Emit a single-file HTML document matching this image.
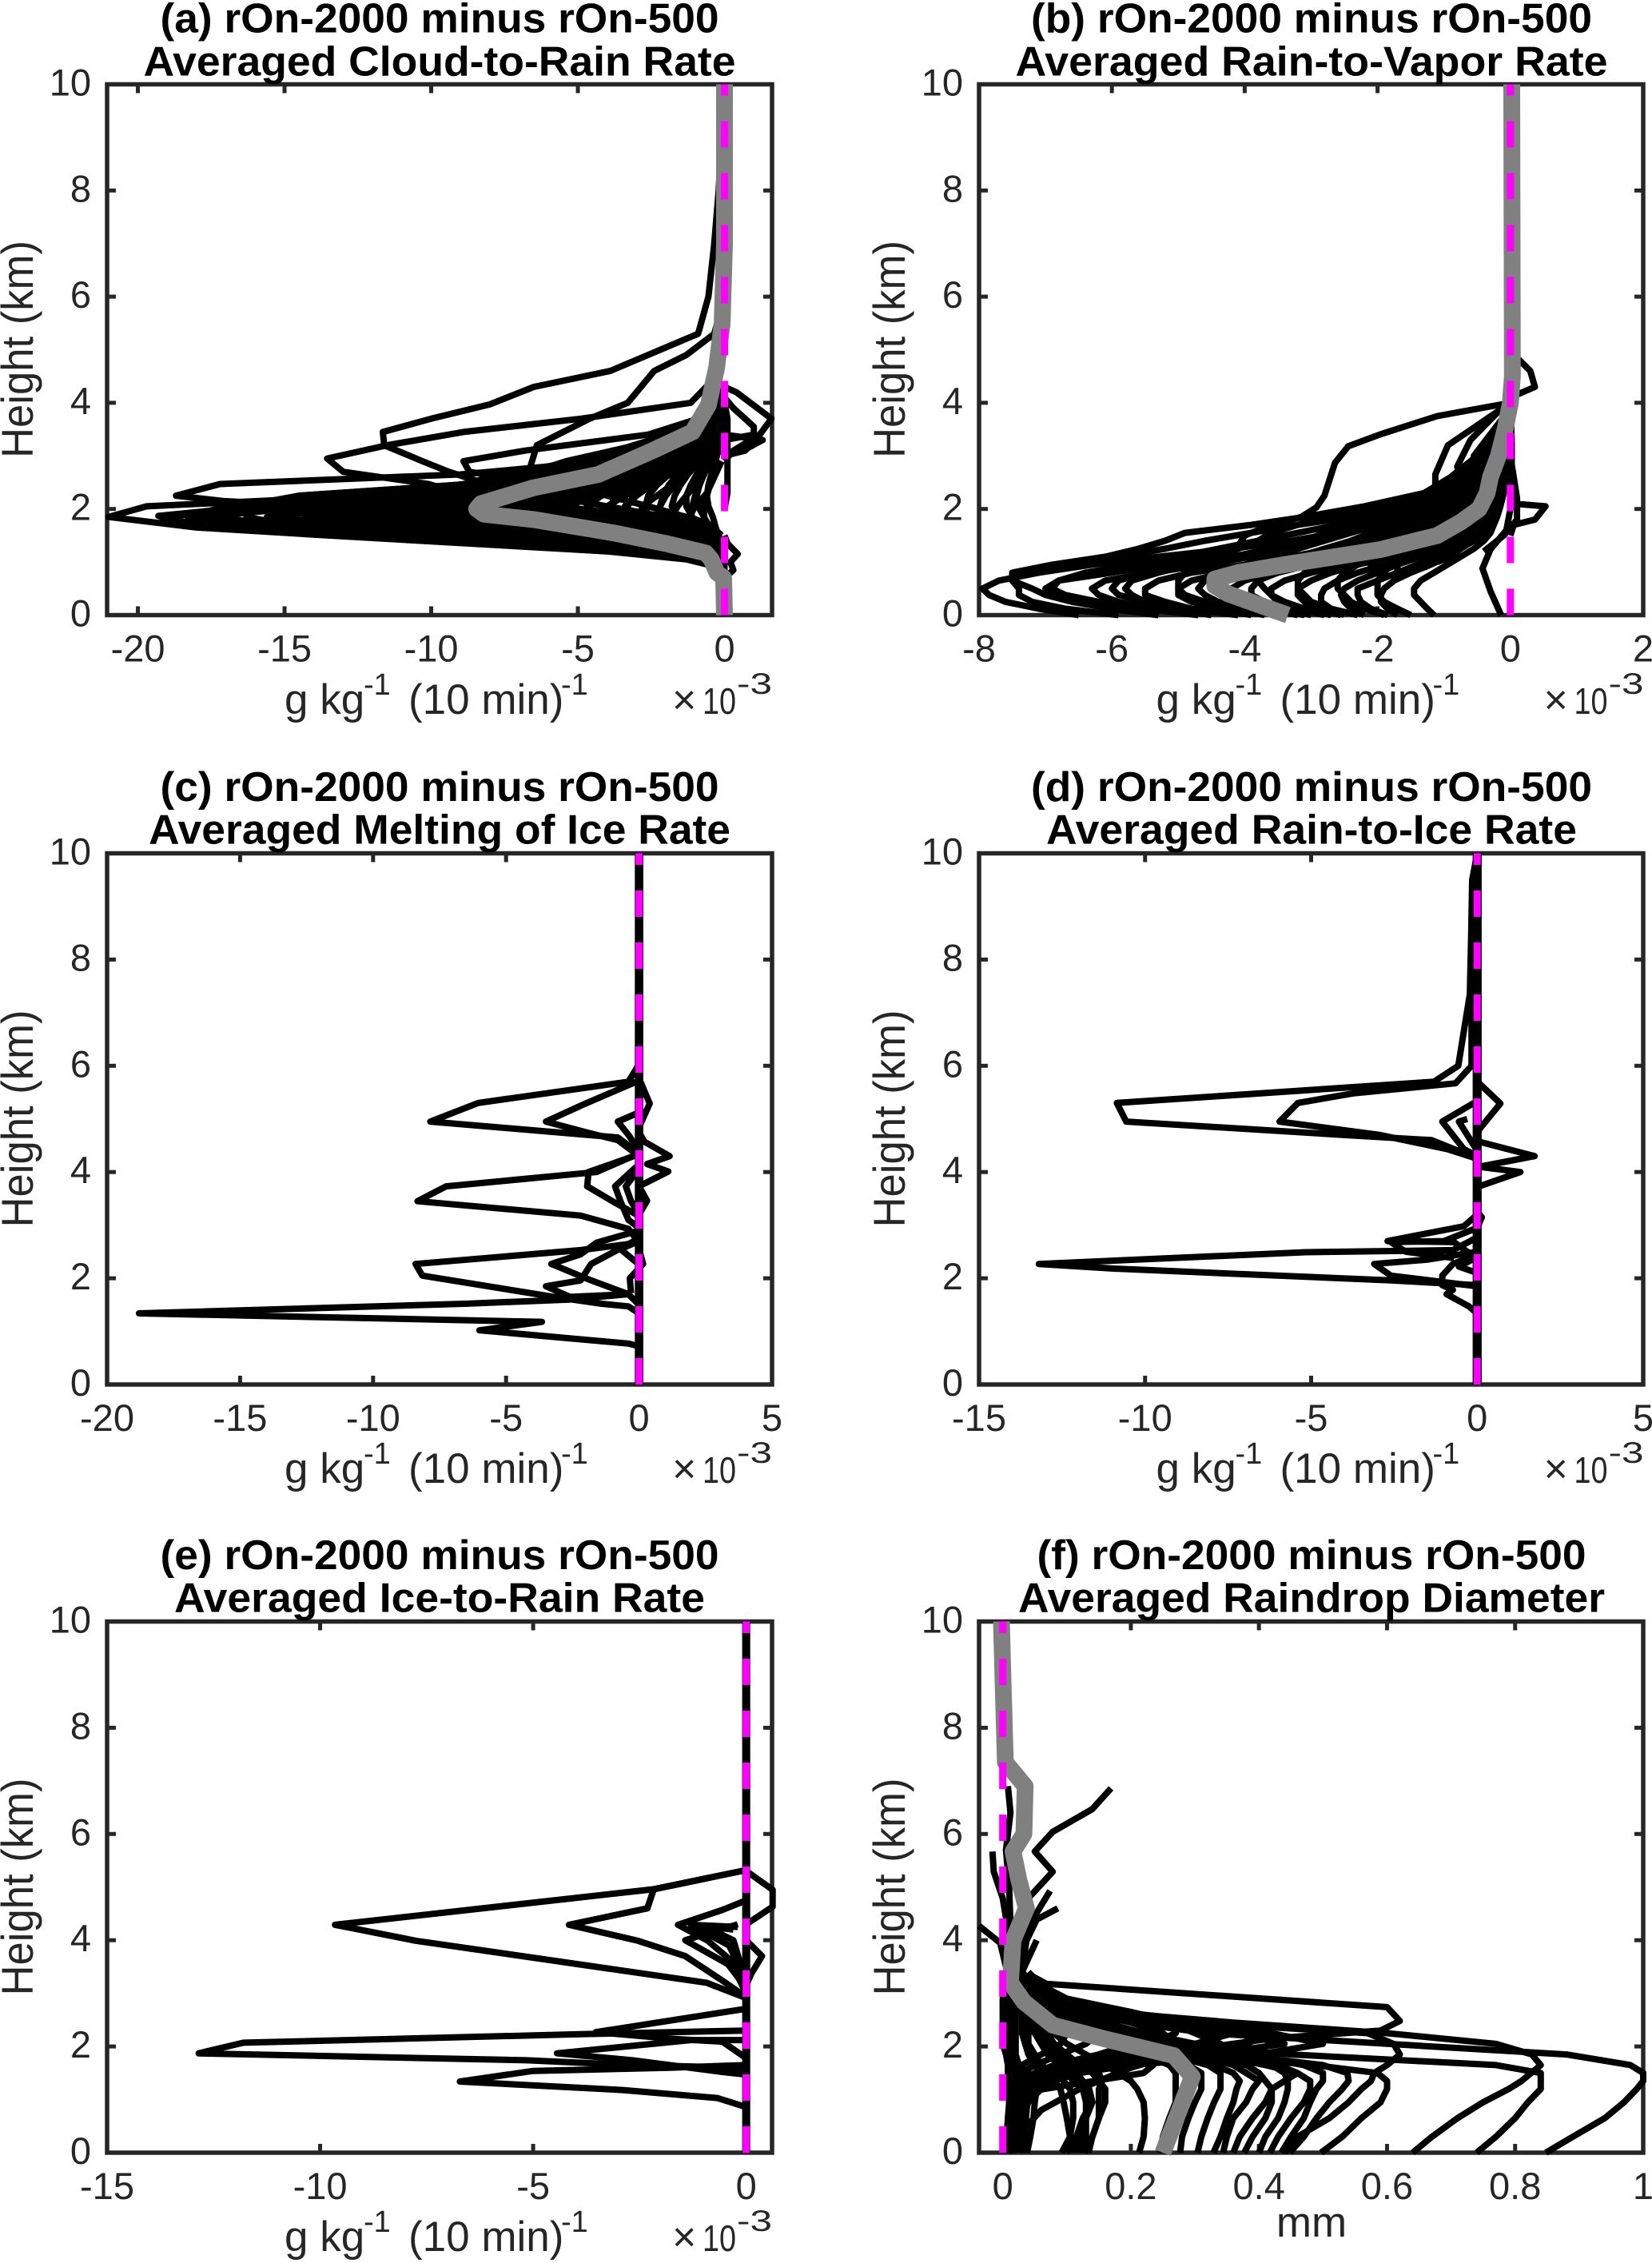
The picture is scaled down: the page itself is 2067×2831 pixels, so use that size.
<!DOCTYPE html>
<html>
<head>
<meta charset="utf-8">
<title>rOn-2000 minus rOn-500 profiles</title>
<style>
html,body{margin:0;padding:0;background:#fff;}
svg{display:block;}
text{font-family:"Liberation Sans",sans-serif;fill:#262626;}
.title{font-weight:bold;font-size:52px;fill:#000;text-anchor:middle;}
.lab{font-size:53px;}
.ylab{font-size:56px;text-anchor:middle;}
.sup{font-size:38px;}
.cross{font-size:52px;}
.mul{font-size:46px;}
.mulsup{font-size:37px;}
.tick{font-size:47px;}
</style>
</head>
<body>
<svg id="fig" width="2067" height="2831" viewBox="0 0 2067 2831" xmlns="http://www.w3.org/2000/svg">
<rect x="0" y="0" width="2067" height="2831" fill="#fff"/>

<g id="panel-a"></g>
<g id="panel-b"></g>
<g id="panel-c"></g>
<g id="panel-d"></g>
<g id="panel-e"></g>
<g id="panel-f"></g>

<text class="title" x="550" y="40.7" textLength="699" lengthAdjust="spacingAndGlyphs">(a) rOn-2000 minus rOn-500</text>
<text class="title" x="550" y="94.3" textLength="741" lengthAdjust="spacingAndGlyphs">Averaged Cloud-to-Rain Rate</text>
<text class="title" x="1641" y="40.7" textLength="702" lengthAdjust="spacingAndGlyphs">(b) rOn-2000 minus rOn-500</text>
<text class="title" x="1641" y="94.3" textLength="741" lengthAdjust="spacingAndGlyphs">Averaged Rain-to-Vapor Rate</text>
<text class="title" x="550" y="1002" textLength="699" lengthAdjust="spacingAndGlyphs">(c) rOn-2000 minus rOn-500</text>
<text class="title" x="550" y="1055.6" textLength="728" lengthAdjust="spacingAndGlyphs">Averaged Melting of Ice Rate</text>
<text class="title" x="1641" y="1002" textLength="702" lengthAdjust="spacingAndGlyphs">(d) rOn-2000 minus rOn-500</text>
<text class="title" x="1641" y="1055.6" textLength="664" lengthAdjust="spacingAndGlyphs">Averaged Rain-to-Ice Rate</text>
<text class="title" x="550" y="1963" textLength="699" lengthAdjust="spacingAndGlyphs">(e) rOn-2000 minus rOn-500</text>
<text class="title" x="550" y="2016.6" textLength="664" lengthAdjust="spacingAndGlyphs">Averaged Ice-to-Rain Rate</text>
<text class="title" x="1641" y="1963" textLength="687" lengthAdjust="spacingAndGlyphs">(f) rOn-2000 minus rOn-500</text>
<text class="title" x="1641" y="2016.6" textLength="734" lengthAdjust="spacingAndGlyphs">Averaged Raindrop Diameter</text>

<text class="ylab" transform="translate(41,437) rotate(-90)" textLength="272" lengthAdjust="spacingAndGlyphs">Height (km)</text>
<text class="ylab" transform="translate(1132,437) rotate(-90)" textLength="272" lengthAdjust="spacingAndGlyphs">Height (km)</text>
<text class="ylab" transform="translate(41,1399.5) rotate(-90)" textLength="272" lengthAdjust="spacingAndGlyphs">Height (km)</text>
<text class="ylab" transform="translate(1132,1399.5) rotate(-90)" textLength="272" lengthAdjust="spacingAndGlyphs">Height (km)</text>
<text class="ylab" transform="translate(41,2360.5) rotate(-90)" textLength="272" lengthAdjust="spacingAndGlyphs">Height (km)</text>
<text class="ylab" transform="translate(1132,2360.5) rotate(-90)" textLength="272" lengthAdjust="spacingAndGlyphs">Height (km)</text>

<text class="lab"><tspan x="356" y="893">g kg</tspan><tspan class="sup" x="455" y="869">-1</tspan><tspan x="511" y="893">(10 min)</tspan><tspan class="sup" x="702" y="869">-1</tspan></text>
<text class="lab"><tspan x="1446.5" y="893">g kg</tspan><tspan class="sup" x="1545.5" y="869">-1</tspan><tspan x="1601.5" y="893">(10 min)</tspan><tspan class="sup" x="1792.5" y="869">-1</tspan></text>
<text class="lab"><tspan x="356" y="1855">g kg</tspan><tspan class="sup" x="455" y="1831">-1</tspan><tspan x="511" y="1855">(10 min)</tspan><tspan class="sup" x="702" y="1831">-1</tspan></text>
<text class="lab"><tspan x="1446.5" y="1855">g kg</tspan><tspan class="sup" x="1545.5" y="1831">-1</tspan><tspan x="1601.5" y="1855">(10 min)</tspan><tspan class="sup" x="1792.5" y="1831">-1</tspan></text>
<text class="lab"><tspan x="356" y="2816">g kg</tspan><tspan class="sup" x="455" y="2792">-1</tspan><tspan x="511" y="2816">(10 min)</tspan><tspan class="sup" x="702" y="2792">-1</tspan></text>
<text class="lab" x="1641" y="2798" text-anchor="middle">mm</text>

<g><text class="cross" x="841" y="893">×</text><text class="mul" x="879" y="893" textLength="42" lengthAdjust="spacingAndGlyphs">10</text><text class="mulsup" x="922" y="868" textLength="44" lengthAdjust="spacingAndGlyphs">-3</text></g>
<g><text class="cross" x="1931.5" y="893">×</text><text class="mul" x="1969.5" y="893" textLength="42" lengthAdjust="spacingAndGlyphs">10</text><text class="mulsup" x="2012.5" y="868" textLength="44" lengthAdjust="spacingAndGlyphs">-3</text></g>
<g><text class="cross" x="841" y="1855">×</text><text class="mul" x="879" y="1855" textLength="42" lengthAdjust="spacingAndGlyphs">10</text><text class="mulsup" x="922" y="1830" textLength="44" lengthAdjust="spacingAndGlyphs">-3</text></g>
<g><text class="cross" x="1931.5" y="1855">×</text><text class="mul" x="1969.5" y="1855" textLength="42" lengthAdjust="spacingAndGlyphs">10</text><text class="mulsup" x="2012.5" y="1830" textLength="44" lengthAdjust="spacingAndGlyphs">-3</text></g>
<g><text class="cross" x="841" y="2816">×</text><text class="mul" x="879" y="2816" textLength="42" lengthAdjust="spacingAndGlyphs">10</text><text class="mulsup" x="922" y="2791" textLength="44" lengthAdjust="spacingAndGlyphs">-3</text></g>
</svg>

<script>
// ---------- tick values ----------
const yTicks = [0,2,4,6,8,10];
const xTicksA = [-20,-15,-10,-5,0];
const xTicksB = [-8,-6,-4,-2,0,2];
const xTicksC = [-20,-15,-10,-5,0,5];
const xTicksD = [-15,-10,-5,0,5];
const xTicksE = [-15,-10,-5,0];
const xTicksF = [0,0.2,0.4,0.6,0.8,1];

// ---------- panel (a) ----------
const levelsA = [.7,.9,1.05,1.2,1.35,1.5,1.65,1.85,2.05,2.25,2.45,2.65,2.9,3.15,3.4,3.7,4,4.3];
const seriesA = [
[0,-.2,-1.3,-4,-8.4,-13.4,-17.6,-19.2,-15,-9,-5,-2.8,-1.3,-.6,-.2,-.1,0,0],
[0,-.2,-1.2,-3.9,-8.1,-12.8,-16.5,-18.3,-17,-13,-7.5,-4,-2,-.9,-.3,-.1,0,0],
[0,-.1,-1.2,-3.7,-7.6,-12,-15.4,-17,-16.2,-14.5,-9.2,-5.5,-3,-1.3,-.5,-.2,0,0],
[0,-.1,-1.1,-3.5,-7.2,-11.2,-14.4,-16.3,-15.8,-12,-8.5,-5,-2.4,-1.1,-.4,-.1,0,0],
[0,-.1,-1,-3.3,-6.8,-10.4,-13.2,-15,-14.8,-13,-9,-6,-3.4,-1.6,-.6,-.2,0,0],
[0,-.1,-.9,-3,-6.3,-9.6,-12.4,-14.3,-13.8,-11,-8,-5.4,-2.8,-1.2,-.5,-.1,0,0],
[0,-.1,-.9,-2.9,-6,-9,-11.6,-13.4,-13,-11.6,-8.8,-6.2,-3.6,-1.8,-.7,-.2,0,0],
[0,-.1,-.8,-2.7,-5.6,-8.6,-11,-12.6,-12.4,-10,-7.4,-5,-2.6,-1.2,-.4,-.1,0,0],
[0,-.1,-.8,-2.5,-5.2,-8,-10.3,-12,-11.6,-10.4,-8,-5.8,-3.8,-2,-.8,-.3,0,0],
[0,-.1,-.7,-2.4,-4.9,-7.5,-9.6,-11,-10.8,-9,-6.6,-4.6,-2.4,-1.1,-.4,-.1,0,0],
[0,-.1,-.7,-2.2,-4.5,-7,-9,-10.4,-10.2,-9.2,-7.4,-5.2,-3.4,-1.8,-.9,-.3,0,0],
[0,-.1,-.6,-2,-4.2,-6.5,-8.3,-9.6,-9.4,-8,-6,-4.2,-2.2,-1,-.3,-.1,0,0],
[0,0,-.6,-1.9,-3.9,-6,-7.7,-9,-8.8,-7.8,-6.4,-4.8,-3,-1.6,-.7,-.2,0,0],
[0,0,-.5,-1.7,-3.6,-5.5,-7.1,-8.2,-8,-6.8,-5.2,-3.8,-2,-.9,-.3,-.1,0,0],
[0,0,-.5,-1.6,-3.3,-5.1,-6.5,-7.5,-7.4,-6.8,-5.4,-4.2,-2.7,-1.4,-.6,-.2,0,0],
[0,0,-.4,-1.4,-3,-4.6,-5.9,-6.8,-6.7,-5.6,-4.4,-3.2,-1.8,-.8,-.3,0,0,0],
[0,0,-.4,-1.3,-2.7,-4.1,-5.3,-6.1,-6,-5.4,-4.4,-3.4,-2.3,-1.2,-.5,-.2,0,0],
[0,0,-.3,-1.1,-2.4,-3.7,-4.7,-5.4,-5.3,-4.5,-3.6,-2.6,-1.5,-.7,-.2,0,0,0],
[0,0,-.3,-1,-2.1,-3.2,-4.1,-4.8,-4.7,-4.2,-3.5,-2.7,-1.9,-1,-.4,-.1,0,0],
[0,0,-.2,-.9,-1.8,-2.8,-3.6,-4.1,-4,-3.4,-2.7,-2,-1.2,-.6,-.2,0,0,0],
[0,0,-.2,-.8,-1.6,-2.4,-3,-3.5,-3.4,-3,-2.5,-2,-1.4,-.8,-.3,-.1,0,0],
[0,0,-.2,-.6,-1.3,-2,-2.5,-2.9,-2.8,-2.3,-1.8,-1.4,-.9,-.4,-.1,0,0,0],
[0,0,-.1,-.5,-1,-1.5,-2,-2.3,-2.2,-2,-1.7,-1.4,-1,-.6,-.2,-.1,0,0],
[0,0,-.1,-.4,-.8,-1.2,-1.5,-1.8,-1.6,-1.3,-1,-.8,-.6,-.3,-.1,0,0,0],
[0,0,-.1,-.3,-.5,-.8,-1,-1.2,-1.1,-1,-.9,-.7,-.5,-.3,-.1,0,0,0],
[0,0,0,-.1,-.3,-.5,-.6,-.7,-.7,-.6,-.5,-.4,-.3,-.2,-.1,0,0,0],
[0,0,-.1,-.3,-.7,-1.2,-2.4,-5.5,-10,-14.5,-9,-6.4,-4,-2.2,-1,-.4,-.1,0],
[0,0,0,-.2,-.5,-1,-2,-4.5,-8.5,-12,-8.8,-7,-4.4,-2.6,-1.3,-.5,-.1,0],
[0,0,0,-.2,-.4,-.8,-1.6,-3.6,-7,-10.4,-9,-7.6,-5,-3,-1.6,-.7,-.2,0],
[0,0,0,-.1,-.3,-.6,-1.2,-2.8,-5.6,-8.4,-7.8,-6.8,-5.4,-3.4,-1.9,-.8,-.3,0],
[0,0,0,-.1,-.2,-.4,-.9,-2,-4,-6,-6.4,-6,-4.6,-3.2,-1.8,-1,-.4,-.1],
[0,0,0,0,-.1,-.3,-.6,-1.3,-2.6,-4,-4.8,-4.8,-3.8,-2.8,-1.8,-1,-.5,-.1],
[0,-.1,-.8,-2.6,-5.4,-8.4,-11,-13.5,-16.5,-14.5,-9.2,-6,-3,-1.4,-.5,-.2,0,0],
[0,-.1,-.7,-2.3,-4.8,-7.6,-10,-12.5,-15,-14,-9,-6.5,-3.2,-1.5,-.5,-.2,0,0],
[0,-.1,-.7,-2.2,-4.6,-7,-9.2,-11.4,-14,-13.5,-8.8,-7,-3.6,-1.7,-.6,-.2,0,0],
[0,-.1,-.6,-2,-4.2,-6.4,-8.4,-10.4,-12.6,-12.5,-8.6,-7.4,-4,-1.9,-.7,-.2,0,0],
[0,-.1,-.6,-1.8,-3.8,-5.8,-7.6,-9.4,-11.2,-11.5,-8.4,-6.8,-3.6,-1.7,-.6,-.2,0,0],
[0,0,-.5,-1.6,-3.4,-5.2,-6.8,-8.4,-10,-10.5,-8.2,-6.6,-4.2,-2.2,-.9,-.3,0,0],
[0,0,-.4,-1.3,-2.8,-4.4,-5.6,-6.4,-7,-7.2,-5.8,-4.4,-2.8,-1.5,-.7,-.2,0,0],
[0,0,-.4,-1.2,-2.5,-3.8,-4.9,-5.6,-6,-6.2,-5.2,-4,-2.6,-1.3,-.6,-.2,0,0],
[0,0,-.3,-1,-2.2,-3.4,-4.3,-5,-5.2,-5.2,-4.6,-3.6,-2.4,-1.2,-.5,-.15,0,0],
[0,0,-.3,-.9,-2,-3,-3.8,-4.4,-4.6,-4.4,-3.9,-3.2,-2.1,-1.1,-.45,-.1,0,0],
[0,0,-.2,-.8,-1.7,-2.6,-3.3,-3.8,-3.9,-3.7,-3.3,-2.8,-1.8,-.95,-.4,-.1,0,0],
[0,0,-.2,-.7,-1.5,-2.2,-2.8,-3.2,-3.3,-3.1,-2.8,-2.3,-1.55,-.85,-.35,-.1,0,0],
[0,0,-.2,-.6,-1.2,-1.8,-2.3,-2.6,-2.7,-2.6,-2.3,-1.9,-1.3,-.7,-.3,-.1,0,0],
[0,0,-.1,-.4,-1,-1.4,-1.8,-2.1,-2.2,-2.1,-1.9,-1.6,-1.1,-.55,-.25,-.05,0,0],
[0,0,-.1,-.3,-.7,-1,-1.3,-1.6,-1.8,-1.7,-1.5,-1.25,-.85,-.45,-.2,-.05,0,0],
[0,0,-.1,-.2,-.5,-.7,-.9,-1.1,-1.3,-1.3,-1.15,-.95,-.65,-.35,-.15,0,0,0],
[0,0,0,-.1,-.3,-.4,-.5,-.7,-.9,-.95,-.85,-.7,-.5,-.25,-.1,0,0,0],
[0,0,0,-.1,-.1,-.2,-.3,-.4,-.55,-.6,-.55,-.45,-.35,-.15,-.05,0,0,0],
[0,-.2,-1.2,-3.8,-7.8,-12.2,-15.8,-17.8,-14,-9,-5,-2.8,-1.3,-.6,-.2,-.1,0,0],
[0,-.1,-1.1,-3.4,-7,-10.8,-13.8,-15.6,-12.5,-8,-5,-2.8,-1.3,-.6,-.2,-.1,0,0],
[0,-.1,-.9,-2.8,-6,-9.2,-11.8,-13.2,-10.5,-7,-4.5,-2.6,-1.2,-.5,-.2,0,0,0],
[0,-.1,-.8,-2.5,-5.2,-7.8,-10,-11.5,-9,-6,-4,-2.4,-1.1,-.5,-.2,0,0,0],
[0,-.1,-.6,-2.1,-4.4,-6.6,-8.6,-10,-8,-5.4,-3.5,-2.2,-1,-.45,-.15,0,0,0],
[0,0,-.5,-1.8,-3.8,-5.7,-7.4,-8.6,-7,-4.8,-3.2,-2,-.9,-.4,-.1,0,0,0],
[0,0,-.4,-1.5,-3.2,-4.9,-6.2,-7.2,-6,-4.2,-2.8,-1.8,-.8,-.35,-.1,0,0,0]
];
const extraHeightsA = [
[10,8,7,6,5.3,4.6,4.3,3.97,3.7,3.45,3.2,2.9,2.7,2.45],
[6,5.3,4.9,4.6,4,3.7,3.2,2.65,2.3],
[4.6,4,3.7,3.45,3.2,2.95,2.7,2.47,2.3],
[3.7,3.2,2.9,2.65,2.47,2.25,2.15,2,1.85],
[3.4,2.9,2.5,2.25,2.05,1.85,1.65,1.5,1.2],
[2.25,2.05,1.87,1.7],
[4,3.7,3.4,3.1,2.9,2.7,2.5],
[4.3,4.2,3.7,3.4,3.1,2.9],
[4.1,3.9,3.55,3.4,3.3],
[3.4,3.3,3.15,3.1,3],
[1.5,1.35,1.15,1,.85,.7,.5],
[2.9,2.3,2.05,1.85,1.7,1.5],
[4,3.7,3.3,3,2.6,2.3,2]
];
const extraValuesA = [
[0,-.2,-.35,-.55,-.9,-3.9,-6.5,-8,-10,-11.65,-11.6,-10.3,-9.4,-8],
[0,-.35,-1.3,-2.4,-3.3,-4.6,-6.4,-6.7,-6],
[-.1,-1.15,-4.9,-8.9,-11.5,-13.55,-13,-10.1,-9],
[-.3,-1.5,-4,-9,-17.2,-18.7,-17.1,-12,-6],
[-.3,-2,-5,-12,-19.7,-21,-18,-13.5,-4],
[-13,-16,-19.3,-18],
[-.3,-.9,-2.6,-6.8,-8.9,-8.7,-6.5],
[0,.4,1.6,1.2,.3,0],
[0,.3,1,1,0],
[0,1.3,.8,.7,0],
[0,.1,.45,.2,.3,0,0],
[-.1,-.6,-1,-1.2,-.5,-.1],
[0,.1,.1,.1,.1,.1,0]
];
const meanHeightsA = [0,.7,.8,1.05,1.17,1.35,1.55,1.8,1.9,2,2.1,2.4,2.65,3.1,3.45,3.96,4.66,5.5,7,10];
const meanA = [0,-.03,-.26,-.45,-.64,-2,-3.8,-6.5,-8.2,-8.45,-8.3,-6.5,-4.3,-2.45,-1.09,-.55,-.27,-.08,0,0];

// ---------- panel (b) ----------
const levelsB = [0,.12,.25,.38,.5,.65,.8,.95,1.1,1.25,1.4,1.55,1.7,1.85,2.05,2.3,2.6,3,3.4,3.7,4];
const seriesB = [
[-6.5,-7.1,-7.6,-7.85,-7.95,-7.7,-7.1,-6.3,-5.3,-4.2,-3.3,-2.6,-2,-1.6,-1.1,-.7,-.5,-.3,-.15,-.05,0],
[-5.9,-6.7,-7.2,-7.4,-7.4,-7.5,-7.4,-6.7,-5.9,-5.2,-4.6,-3.9,-3.2,-2.4,-1.7,-1.1,-.7,-.4,-.2,-.1,0],
[-5.3,-6,-6.6,-7,-7.2,-7.5,-7.5,-6.9,-6.1,-5.6,-5.2,-4.9,-3.9,-3.1,-2.2,-1.3,-.9,-.5,-.25,-.1,0],
[-5.3,-6,-6.5,-6.9,-7,-6.8,-6,-5.2,-4.5,-4.1,-3.8,-3.6,-3.2,-2.8,-2,-1.2,-.8,-.45,-.2,-.1,0],
[-4.7,-5.4,-5.9,-6.2,-6.3,-6.1,-5.4,-4.6,-3.9,-3.4,-3.1,-2.8,-2.4,-2,-1.5,-1,-.7,-.4,-.2,-.05,0],
[-4.7,-5.5,-6.2,-6.7,-6.9,-6.8,-6.4,-5.7,-5,-4.4,-3.8,-3.2,-2.6,-2.1,-1.5,-.95,-.65,-.4,-.2,-.05,0],
[-4.1,-4.8,-5.2,-5.5,-5.5,-5.3,-4.8,-4,-3.3,-2.7,-2.3,-2,-1.7,-1.4,-1,-.8,-.6,-.35,-.15,-.05,0],
[-4.1,-4.9,-5.5,-5.9,-6,-5.9,-5.5,-4.9,-4.2,-3.5,-2.9,-2.4,-2,-1.6,-1.2,-.8,-.55,-.3,-.15,-.05,0],
[-3.9,-4.4,-4.8,-5,-5,-4.8,-4.3,-3.6,-3,-2.4,-2,-1.7,-1.4,-1.1,-.85,-.65,-.5,-.3,-.15,-.05,0],
[-3.5,-4,-4.4,-4.6,-4.7,-4.6,-4.2,-3.6,-2.9,-2.3,-1.8,-1.5,-1.2,-1,-.75,-.6,-.45,-.25,-.1,-.05,0],
[-3.2,-3.7,-4,-4.2,-4.2,-4,-3.6,-3,-2.4,-1.9,-1.6,-1.3,-1.1,-.9,-.7,-.55,-.4,-.25,-.1,0,0],
[-3,-3.4,-3.7,-3.9,-3.9,-3.8,-3.5,-3,-2.6,-2.1,-1.7,-1.4,-1.15,-.95,-.7,-.5,-.35,-.2,-.1,0,0],
[-2.8,-3.2,-3.5,-3.6,-3.6,-3.4,-3,-2.5,-2,-1.6,-1.3,-1.05,-.85,-.7,-.55,-.45,-.3,-.2,-.1,0,0],
[-2.55,-2.9,-3.1,-3.2,-3.2,-3,-2.7,-2.3,-1.8,-1.4,-1.1,-.9,-.7,-.6,-.45,-.35,-.25,-.15,-.05,0,0],
[-2.5,-2.7,-2.85,-2.85,-2.8,-2.6,-2.3,-1.9,-1.5,-1.2,-.95,-.75,-.6,-.5,-.4,-.3,-.2,-.1,-.05,0,0],
[-2.2,-2.4,-2.5,-2.55,-2.5,-2.3,-2,-1.7,-1.35,-1.05,-.8,-.65,-.5,-.4,-.3,-.2,-.15,-.1,0,0,0],
[-1.85,-2.1,-2.25,-2.3,-2.3,-2,-1.7,-1.4,-1.1,-.85,-.65,-.5,-.4,-.3,-.25,-.2,-.1,-.05,0,0,0],
[-1.7,-1.85,-1.95,-1.95,-1.9,-1.75,-1.5,-1.2,-.95,-.75,-.55,-.4,-.3,-.25,-.2,-.15,-.1,-.05,0,0,0],
[-1.15,-1.25,-1.35,-1.45,-1.45,-1.35,-1.15,-.95,-.75,-.55,-.4,-.3,-.25,-.2,-.15,-.1,-.05,0,0,0,0],
[-4.5,-5.1,-5.5,-5.7,-5.8,-5.7,-5.3,-4.8,-4.2,-3.6,-3.1,-2.6,-2.2,-1.8,-1.4,-1,-.7,-.4,-.2,-.05,0],
[-3.7,-4.2,-4.6,-4.9,-5,-5,-4.9,-4.5,-4,-3.5,-3,-2.6,-2.2,-1.8,-1.35,-.95,-.7,-.45,-.2,-.1,0],
[-3.1,-3.6,-3.9,-4.1,-4.3,-4.4,-4.3,-4,-3.6,-3.2,-2.8,-2.4,-2,-1.7,-1.25,-.9,-.65,-.4,-.2,-.05,0],
[-2.7,-3.1,-3.4,-3.6,-3.7,-3.8,-3.7,-3.5,-3.2,-2.8,-2.4,-2.1,-1.8,-1.5,-1.1,-.8,-.6,-.35,-.15,-.05,0],
[-2.3,-2.7,-3,-3.1,-3.2,-3.2,-3.1,-2.9,-2.7,-2.4,-2.1,-1.8,-1.5,-1.25,-.95,-.7,-.5,-.3,-.15,0,0],
[-1.9,-2.2,-2.4,-2.5,-2.6,-2.6,-2.5,-2.3,-2.1,-1.9,-1.6,-1.4,-1.2,-1,-.8,-.6,-.45,-.25,-.1,0,0],
[-1.5,-1.7,-1.9,-2,-2,-2,-1.9,-1.8,-1.6,-1.4,-1.2,-1,-.85,-.7,-.55,-.45,-.3,-.15,-.05,0,0]
];
const extraHeightsB = [
[0,.45,.88,1.24,1.6,2,2.6,3.2,3.7,4],
[4,3.75,3.4,3.18,2.87,2.25,2.03,1.85,1.65,1.5,1.3,1.1],
[4,3.2,2.65,2.12,1.9],
[4.85,4.6,4.3,4.1],
[2.1,2.05,1.8,1.7,1.5],
[3,2.6,2.2,1.8,1.5,1.2],
[4,3.3,2.8,2.3,2],
[3.9,3,2.6,2.2,2],
[.8,.95,1.1,1.25,1.4,1.55,1.7,1.85,2.05,2.3,2.6,3,3.4],
[.8,.95,1.1,1.25,1.4,1.55,1.7,1.85,2.05,2.3,2.6,3,3.4],
[.85,.95,1.1,1.25,1.4,1.55,1.7,1.85,2.05,2.3,2.6,3,3.4],
[1,1.1,1.25,1.4,1.55,1.7,1.85,2.05,2.3,2.6,3]
];
const extraValuesB = [
[-.14,-.3,-.42,-.3,-.06,0,.02,.02,.01,0],
[0,-1.1,-1.97,-2.44,-2.64,-2.8,-2.92,-3.15,-3.7,-4,-4.1,-5],
[0,-.94,-1.13,-1.13,-.9],
[.1,.3,.37,0],
[.05,.53,.37,.05,0],
[0,.05,.1,.1,-.1,-.4],
[-.05,-.6,-.8,-.7,-1],
[0,-.55,-.55,-.5,-.8],
[-2.1,-2.1,-1.9,-1.7,-1.5,-1.3,-1.1,-.9,-.7,-.5,-.35,-.2,-.05],
[-1.7,-1.7,-1.6,-1.4,-1.2,-1,-.8,-.65,-.5,-.35,-.25,-.15,-.05],
[-1.3,-1.3,-1.2,-1.1,-1,-.85,-.7,-.55,-.4,-.3,-.2,-.1,0],
[-1.1,-.9,-.75,-.6,-.45,-.35,-.25,-.2,-.15,-.1,-.05]
];
const meanHeightsB = [0,.2,.4,.55,.68,.8,.95,1.23,1.5,1.75,2,2.3,2.6,3,3.5,4,4.5,10];
const meanB = [-3.35,-3.8,-4.25,-4.45,-4.45,-4.1,-3.4,-1.97,-1.1,-.75,-.47,-.35,-.3,-.18,-.08,0,.03,.02];

// ---------- panel (c) ----------
const extraHeightsC = [
[0,10],
[0,10],
[6.03,5.7,5.3,4.95,4.65,4.35,4,3.73,3.45,3.18,2.93,2.67],
[5.7,5.27,4.95,4.75,4.6,4.3],
[2.67,2.53,2.27,2.05,1.65,1.52,1.47,1.34],
[2.9,2.67,2.45,2.27,1.96,1.7,1.5],
[2.75,2.27,1.96,1.85,1.65,1.7],
[1.7,1.6,1.52,1.34,1.18,1.02,.77,.72,.55],
[5.7,5.29,4.9],
[4.75,4.57,4.3,4.15,4.01,3.73,3.5],
[5.1,4.95,4.7,4.4],
[4.3,4,3.73,3.45,3.2,2.95],
[4.1,3.73,3.45,3.1,2.95],
[4,3.73,3.45,3.2],
[3.73,3.46,3.2],
[2.55,2.27,2,1.72],
[2.7,2.55,2.3]
];
const extraValuesC = [
[-.04,-.04],
[.04,.04],
[0,-.4,-6.05,-7.85,-.8,0,-1.6,-7.25,-8.33,-2.2,-.4,0],
[-.1,-2.1,-3.5,-2,-.8,0],
[0,-2.2,-8.4,-8.15,-3.2,-1.4,-.4,0],
[0,-1.6,-2.2,-3.3,-1.8,-.4,0],
[0,-1.8,-2.2,-3.5,-2.6,-.4],
[-.4,-2.6,-6.55,-18.8,-3.65,-6,-.4,0,0],
[.05,.4,.05],
[0,.2,1.15,.3,1.1,0,0],
[-.1,-.8,-.4,0],
[-.2,-1.9,-1.95,-1,-.1],
[-.1,-.9,-.7,-.4,0],
[-.1,-.5,-.3,0],
[0,.3,0],
[0,.15,-.35,-.3],
[0,-.7,-.1]
];

// ---------- panel (d) ----------
const extraHeightsD = [
[0,10],
[0,10],
[10,9.5,8.5,7.35,6,5.7,5.3,4.95,4.7,4.6,4.3,4.25],
[8,6.8,6,5.67,5.48,5.3,4.95,4.7,4.43,4.25],
[5.67,5.29,4.8,4.65],
[5.3,4.95,4.43,4.3],
[5,4.95,4.6,4.4],
[4.57,4.3,4.1,4,3.73],
[3.25,3.15,2.95],
[3.2,2.98,2.7,2.68,2.5,2.4],
[2.77,2.53,2.49,2.27,2.18,1.96,1.87],
[2.5,2.35,2.27,2.05,1.85],
[2.45,2.27,2.05,1.87,1.78,1.7,1.47,1.34],
[2.4,2.22,2.1],
[2.95,2.7,2.68,2.5,2.38]
];
const extraValuesD = [
[-.04,-.04],
[.04,.04],
[0,-.15,-.18,-.22,-.57,-1.3,-10.85,-10.57,-4.06,-1.37,-.17,0],
[-.05,-.17,-.17,-.65,-3.75,-5.4,-5.95,-2.95,-.9,0],
[.06,.7,.06,0],
[-.1,-1.05,-.4,0],
[-.3,-.55,-.2,0],
[.06,1.73,.06,1.3,.06],
[0,.14,0],
[0,-.4,-2.7,-.7,-.3,0],
[0,-.73,-5.17,-13.2,-10.9,-2.6,0],
[0,-1.5,-3.1,-2.6,0],
[0,-.73,-1.05,-1.05,-.73,-.92,-.25,0],
[0,-.55,0],
[0,-1,-2.6,-2.15,-.7]
];

// ---------- panel (e) ----------
const extraHeightsE = [
[0,10],
[0,10],
[5.7,5.32,4.96,4.29,3.99,3.2,2.93],
[5.32,4.96,4.6,4.29,3.99,3.7,3.24,2.93],
[4.75,4.57,4.29,3.99,3.65,3],
[4.3,4,3.55,3.1],
[4.25,4.29,3.9,3.25],
[4.2,4.27,4,3.6,3.2],
[5.27,4.95,4.63,4.3],
[4,3.7,3.37,3.15],
[2.71,2.27,2.14,2.09,1.78],
[2.3,2.23,2.07,1.87,1.74,1.65,1.6],
[2.12,2.12,1.87,1.74,1.52,1.47],
[1.65,1.6,1.54,1.34,1.18,1.03,.86,.6]
];
const extraValuesE = [
[-.02,-.02],
[.02,.02],
[0,0,-2.17,-9.65,-7.75,-.93,-.06],
[0,-2.17,-2.32,-4.16,-2.54,-1.43,-.56,0],
[0,-.56,-1.6,-.9,-.4,0],
[-.2,-1.43,-.43,0],
[-.2,-1.3,-.4,0],
[-.3,-1,-.3,-.15,0],
[.06,.62,.62,0],
[0,.37,.12,0],
[0,-3.53,-1.67,-.56,0],
[0,-3.9,-11.8,-12.85,-5.15,-2.67,0],
[0,-1.3,-4.44,-2.67,-.56,0],
[0,-1.8,-5,-6.72,-2.9,-.68,0,0]
];

// ---------- panel (f) ----------
const levelsF = [0,.3,.65,.95,1.2,1.35,1.5,1.65,1.85,2.05,2.25,2.45,2.65,2.9,3.15,3.4];
const seriesF = [
[.848,.89,.94,.97,.99,1,1,.98,.88,.6,.32,.2,.14,.09,.055,.04],
[.74,.77,.8,.82,.84,.84,.84,.77,.45,.23,.15,.12,.08,.06,.04,.03],
[.64,.67,.71,.75,.79,.81,.825,.84,.826,.77,.6,.36,.16,.09,.06,.04],
[.497,.53,.56,.59,.6,.6,.585,.486,.3,.2,.14,.1,.07,.05,.04,.03],
[.44,.46,.51,.54,.56,.575,.58,.6,.62,.61,.57,.3,.16,.09,.06,.04],
[.448,.47,.49,.51,.53,.54,.538,.5,.36,.26,.2,.16,.11,.07,.05,.03],
[.435,.45,.47,.48,.49,.5,.5,.47,.38,.3,.22,.16,.12,.07,.05,.03],
[.417,.43,.45,.47,.48,.48,.46,.41,.33,.24,.17,.12,.09,.06,.04,.03],
[.4,.41,.43,.44,.445,.445,.44,.42,.36,.27,.19,.14,.1,.07,.05,.03],
[.377,.39,.41,.42,.42,.41,.4,.38,.31,.22,.16,.12,.08,.06,.04,.03],
[.36,.37,.39,.41,.42,.44,.46,.43,.34,.25,.18,.13,.09,.06,.04,.03],
[.344,.35,.36,.38,.39,.4,.38,.36,.3,.22,.16,.11,.08,.05,.04,.03],
[.329,.34,.35,.36,.365,.37,.36,.33,.27,.2,.15,.11,.08,.05,.04,.03],
[.304,.31,.32,.33,.34,.34,.34,.32,.26,.2,.14,.1,.07,.05,.04,.03],
[.277,.28,.29,.3,.31,.31,.31,.29,.24,.17,.12,.09,.06,.05,.04,.03],
[.245,.25,.26,.27,.27,.27,.27,.26,.22,.16,.11,.08,.06,.05,.04,.03],
[.213,.22,.222,.22,.21,.2,.18,.16,.13,.1,.08,.06,.05,.04,.03,.03],
[.134,.14,.15,.15,.15,.155,.15,.12,.1,.08,.07,.06,.05,.04,.03,.03],
[.125,.13,.13,.13,.125,.11,.1,.09,.08,.07,.06,.05,.04,.03,.03,.02],
[.113,.115,.125,.14,.13,.125,.115,.095,.075,.06,.05,.04,.035,.03,.02,.02],
[.092,.105,.11,.11,.105,.095,.08,.06,.05,.04,.04,.03,.03,.02,.02,.02],
[.105,.105,.1,.095,.09,.08,.06,.05,.04,.035,.03,.03,.03,.02,.02,.02],
[.038,.043,.048,.05,.053,.05,.04,.025,.02,.02,.02,.02,.02,.02,.02,.01],
[.025,.03,.03,.03,.03,.03,.03,.02,.01,.01,.01,.01,.01,.01,.01,.01],
[.012,.015,.018,.02,.02,.02,.018,.015,.01,.005,.005,.005,.005,.005,.005,.005],
[.005,.006,.008,.01,.01,.01,.008,.008,.005,0,0,0,0,0,.005,.005],
[.018,.02,.025,.025,.025,.025,.02,.018,.015,.01,.01,.008,.008,.008,.008,.008],
[.02,.02,.03,.04,.06,.08,.12,.2,.4,.5,.42,.28,.16,.09,.06,.04],
[.015,.02,.02,.03,.05,.07,.1,.16,.32,.44,.36,.22,.14,.08,.05,.03],
[.01,.015,.02,.03,.04,.05,.08,.12,.25,.34,.3,.26,.15,.08,.05,.03],
[.01,.01,.02,.02,.03,.04,.06,.1,.2,.27,.25,.2,.13,.07,.05,.03],
[.01,.01,.01,.02,.02,.03,.05,.08,.15,.2,.2,.17,.12,.07,.04,.03],
[.032,.034,.036,.038,.04,.035,.03,.025,.02,.02,.02,.015,.015,.01,.01,.01],
[.1,.115,.13,.14,.135,.125,.11,.09,.07,.06,.05,.04,.03,.03,.02,.02],
[.128,.14,.15,.16,.16,.15,.14,.12,.09,.07,.06,.05,.04,.03,.03,.02],
[.12,.125,.13,.135,.13,.12,.11,.1,.09,.08,.07,.05,.04,.03,.03,.02],
[.01,.01,.02,.03,.05,.07,.1,.15,.28,.38,.42,.3,.17,.09,.06,.04],
[.01,.01,.02,.03,.04,.06,.08,.13,.22,.3,.36,.33,.18,.09,.06,.04],
[.005,.01,.01,.02,.03,.04,.06,.1,.17,.23,.27,.27,.2,.1,.06,.04],
[.005,.01,.01,.01,.02,.02,.03,.05,.09,.13,.15,.15,.13,.09,.05,.03],
[.005,.005,.01,.01,.01,.02,.02,.03,.06,.09,.1,.11,.1,.07,.05,.03]
];
const extraHeightsF = [
[3.36,3.18,2.74,2.48,2.3,2.15,1.95,1.6,1.2,.8,.4,0],
[0,.5,1.15,1.5,1.65,1.8],
[3.36,3.8,4.26,4.79,5.29,5.67,6.04,6.47,6.86],
[3.4,4.26,4.93],
[3.5,3.99,4.39,4.6],
[3.4,4],
[4.27,3.95,3.5],
[5.67,5.29,4.79,4.2,3.6],
[6.9,6.4,5.7,5,4.3,3.6]
];
const extraValuesF = [
[.04,.068,.6,.62,.59,.42,.3,.2,.12,.06,.03,.01],
[.03,.035,.04,.22,.235,.2],
[.03,.03,.04,.04,.078,.05,.078,.14,.169],
[.03,.04,.074],
[.03,.037,.053,.086],
[.03,.053],
[-.037,-.004,.005],
[-.016,-.014,0,.008,.008],
[.008,.012,.005,.01,.012,.01]
];
const meanHeightsF = [0,1.43,1.83,2.14,2.4,2.84,3.2,4,4.6,5.14,5.67,6,6.9,7.35,9.1,10];
const meanF = [.25,.296,.267,.16,.078,.033,.012,.016,.037,.025,.016,.033,.035,.004,0,-.002];

// ---------- drawing ----------
const NS = 'http://www.w3.org/2000/svg';

function makeX(frame){
  return function(v){ return frame.left + (v - frame.xMin) / (frame.xMax - frame.xMin) * (frame.right - frame.left); };
}
function makeY(frame){
  return function(h){ return frame.bottom - h / 10 * (frame.bottom - frame.top); };
}
function drawProfile(g, heights, values, x, y, stroke, width){
  const pts = [];
  for (let i = 0; i < heights.length; i++) {
    pts.push(x(values[i]).toFixed(1) + ',' + y(heights[i]).toFixed(1));
  }
  const el = document.createElementNS(NS, 'polyline');
  el.setAttribute('points', pts.join(' '));
  el.setAttribute('fill', 'none');
  el.setAttribute('stroke', stroke);
  el.setAttribute('stroke-width', width);
  el.setAttribute('stroke-linejoin', 'round');
  
  
  g.appendChild(el);
}
function drawRule(g, x1, y1, x2, y2, width){
  const el = document.createElementNS(NS, 'line');
  el.setAttribute('x1', x1);
  el.setAttribute('y1', y1);
  el.setAttribute('x2', x2);
  el.setAttribute('y2', y2);
  el.setAttribute('stroke', '#262626');
  el.setAttribute('stroke-width', width);
  
  
  g.appendChild(el);
}
function drawLabel(g, text, px, py, anchor){
  const el = document.createElementNS(NS, 'text');
  el.setAttribute('class', 'tick');
  el.setAttribute('x', px);
  el.setAttribute('y', py);
  el.setAttribute('text-anchor', anchor);
  
  
  el.textContent = text;
  g.appendChild(el);
}
function drawPanel(id, frame, xTicks, group){
  const g = document.getElementById(id);
  const x = makeX(frame);
  const y = makeY(frame);

  const box = document.createElementNS(NS, 'rect');
  box.setAttribute('x', frame.left);
  box.setAttribute('y', frame.top);
  box.setAttribute('width', frame.right - frame.left);
  box.setAttribute('height', frame.bottom - frame.top);
  box.setAttribute('fill', '#fff');
  box.setAttribute('stroke', '#262626');
  box.setAttribute('stroke-width', 5.5);
  
  
  g.appendChild(box);

  xTicks.forEach(function(t){
    drawRule(g, x(t), frame.bottom, x(t), frame.bottom - 11, 5);
    drawRule(g, x(t), frame.top, x(t), frame.top + 11, 5);
    drawLabel(g, String(t), x(t), frame.bottom + 58, 'middle');
  });
  yTicks.forEach(function(t){
    drawRule(g, frame.left, y(t), frame.left + 11, y(t), 5);
    drawRule(g, frame.right, y(t), frame.right - 11, y(t), 5);
    drawLabel(g, String(t), frame.left - 20, y(t) + 14, 'end');
  });

  if (group.levels) {
    group.rows.forEach(function(row){
      drawProfile(g, group.levels, row, x, y, '#000', 8);
    });
  }
  group.extraHeights.forEach(function(h, i){
    drawProfile(g, h, group.extraValues[i], x, y, '#000', 8);
  });
  if (group.meanHeights) {
    drawProfile(g, group.meanHeights, group.mean, x, y, '#808080', 21);
  }

  const zero = document.createElementNS(NS, 'line');
  zero.setAttribute('x1', x(0));
  zero.setAttribute('x2', x(0));
  zero.setAttribute('y1', y(0));
  zero.setAttribute('y2', y(10));
  zero.setAttribute('stroke', '#ff00ff');
  zero.setAttribute('stroke-width', 9);
  zero.setAttribute('stroke-dasharray', '33 32');
  
  
  g.appendChild(zero);
}

const colL = {left:134, right:966};
const colR = {left:1225, right:2056};
const row1 = {top:105.5, bottom:769.5};
const row2 = {top:1067.5, bottom:1732};
const row3 = {top:2028.5, bottom:2693};

drawPanel('panel-a', {left:colL.left, right:colL.right, top:row1.top, bottom:row1.bottom, xMin:-21.05, xMax:1.62}, xTicksA,
  {levels:levelsA, rows:seriesA, extraHeights:extraHeightsA, extraValues:extraValuesA, meanHeights:meanHeightsA, mean:meanA});
drawPanel('panel-b', {left:colR.left, right:colR.right, top:row1.top, bottom:row1.bottom, xMin:-8, xMax:2}, xTicksB,
  {levels:levelsB, rows:seriesB, extraHeights:extraHeightsB, extraValues:extraValuesB, meanHeights:meanHeightsB, mean:meanB});
drawPanel('panel-c', {left:colL.left, right:colL.right, top:row2.top, bottom:row2.bottom, xMin:-20, xMax:5}, xTicksC,
  {extraHeights:extraHeightsC, extraValues:extraValuesC});
drawPanel('panel-d', {left:colR.left, right:colR.right, top:row2.top, bottom:row2.bottom, xMin:-15, xMax:5}, xTicksD,
  {extraHeights:extraHeightsD, extraValues:extraValuesD});
drawPanel('panel-e', {left:colL.left, right:colL.right, top:row3.top, bottom:row3.bottom, xMin:-15, xMax:0.607}, xTicksE,
  {extraHeights:extraHeightsE, extraValues:extraValuesE});
drawPanel('panel-f', {left:colR.left, right:colR.right, top:row3.top, bottom:row3.bottom, xMin:-0.037, xMax:1}, xTicksF,
  {levels:levelsF, rows:seriesF, extraHeights:extraHeightsF, extraValues:extraValuesF, meanHeights:meanHeightsF, mean:meanF});
</script>
</body>
</html>
